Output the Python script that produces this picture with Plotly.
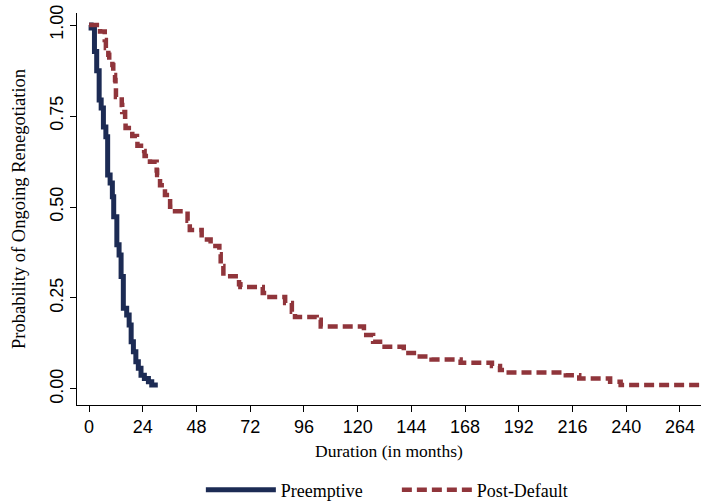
import plotly.graph_objects as go

# Kaplan-Meier style survival estimates (months, probability)
pre_t = [0, 0.9, 2.4, 3.4, 4.5, 5.4, 6.4, 7.5, 8.3, 9.4, 10.4, 11.0, 12.4, 13.4, 14.3,
         15.3, 16.8, 17.9, 18.8, 19.8, 20.9, 22.0, 23.2, 24.7, 26.5, 28.0, 30.7]
pre_s = [1.0, 0.992, 0.927, 0.874, 0.794, 0.772, 0.720, 0.693, 0.588, 0.566, 0.528, 0.473,
         0.396, 0.368, 0.309, 0.222, 0.203, 0.176, 0.130, 0.102, 0.075, 0.057, 0.038,
         0.029, 0.020, 0.011, 0.011]

post_t = [0, 4.9, 7.0, 7.5, 8.6, 9.0, 10.4, 10.8, 11.6, 11.8, 12.0, 14.6, 14.8, 16.1, 16.3,
          19.1, 19.3, 21.4, 21.6, 24.6, 24.8, 27.2, 30.2, 30.4, 31.7, 33.9, 36.2, 38.4,
          44.0, 45.0, 50.3, 54.3, 58.2, 58.8, 60.0, 67.0, 67.6, 77.6, 79.5, 87.6, 90.6,
          92.0, 101.7, 103.5, 122.8, 126.9, 130.0, 140.6, 146.5, 153.0, 166.0, 180.0,
          183.6, 185.5, 213.0, 219.0, 232.8, 237.5, 273.5]
post_s = [1.0, 0.982, 0.959, 0.937, 0.918, 0.904, 0.890, 0.863, 0.849, 0.827, 0.802, 0.780,
          0.761, 0.739, 0.717, 0.709, 0.695, 0.681, 0.668, 0.654, 0.640, 0.624, 0.600,
          0.588, 0.560, 0.533, 0.501, 0.488, 0.462, 0.437, 0.411, 0.393, 0.370, 0.338,
          0.310, 0.288, 0.280, 0.264, 0.253, 0.236, 0.212, 0.198, 0.190, 0.172, 0.148,
          0.130, 0.116, 0.099, 0.089, 0.081, 0.072, 0.063, 0.052, 0.045, 0.038, 0.029,
          0.020, 0.011, 0.011]

x_ticks = [0, 24, 48, 72, 96, 120, 144, 168, 192, 216, 240, 264]
y_ticks = [0, 0.25, 0.5, 0.75, 1.0]
y_labels = ["0.00", "0.25", "0.50", "0.75", "1.00"]

NAVY = "#1c2b54"
MAROON = "#90353b"
SANS = "Liberation Sans Narrow, Liberation Sans, Arial, sans-serif"
SERIF = "Liberation Serif, Times New Roman, serif"

fig = go.Figure()
fig.add_trace(go.Scatter(x=pre_t, y=pre_s, mode="lines", name="Preemptive",
                         line=dict(color=NAVY, width=5, shape="hv")))
fig.add_trace(go.Scatter(x=post_t, y=post_s, mode="lines", name="Post-Default",
                         line=dict(color=MAROON, width=4.5, shape="hv", dash="10px,5px")))

fig.update_layout(
    width=701, height=502,
    margin=dict(l=77, r=0, t=13, b=97, autoexpand=False),
    paper_bgcolor="white", plot_bgcolor="white",
    showlegend=True,
    legend=dict(orientation="h", x=0.5126, xanchor="center", y=-0.217, yanchor="middle",
                font=dict(family=SERIF, size=18, color="black"),
                itemwidth=70, entrywidthmode="pixels", entrywidth=111,
                bgcolor="rgba(0,0,0,0)"),
)
fig.update_xaxes(
    range=[-5.4, 273.4], tickvals=x_ticks, ticks="outside", ticklen=6, tickwidth=1,
    tickcolor="black", showline=True, linecolor="black", linewidth=1,
    showgrid=False, zeroline=False, automargin=False, ticklabelstandoff=-1,
    tickfont=dict(family=SANS, size=18, color="black"),
    title=dict(text="Duration (in months)", font=dict(family=SERIF, size=17.5, color="black"),
               standoff=9),
)
fig.update_yaxes(
    range=[-0.044, 1.033], tickvals=y_ticks, ticktext=y_labels, tickangle=-90,
    ticks="outside", ticklen=6, tickwidth=1, tickcolor="black",
    showline=True, linecolor="black", linewidth=1, showgrid=False, zeroline=False,
    automargin=False,
    tickfont=dict(family=SANS, size=18, color="black"),
    title=dict(text="Probability of Ongoing Renegotiation",
               font=dict(family=SERIF, size=18.5, color="black"), standoff=16),
)

fig.write_html("out.html", config={"displayModeBar": False},
               post_script="document.body.style.margin='0px';")
